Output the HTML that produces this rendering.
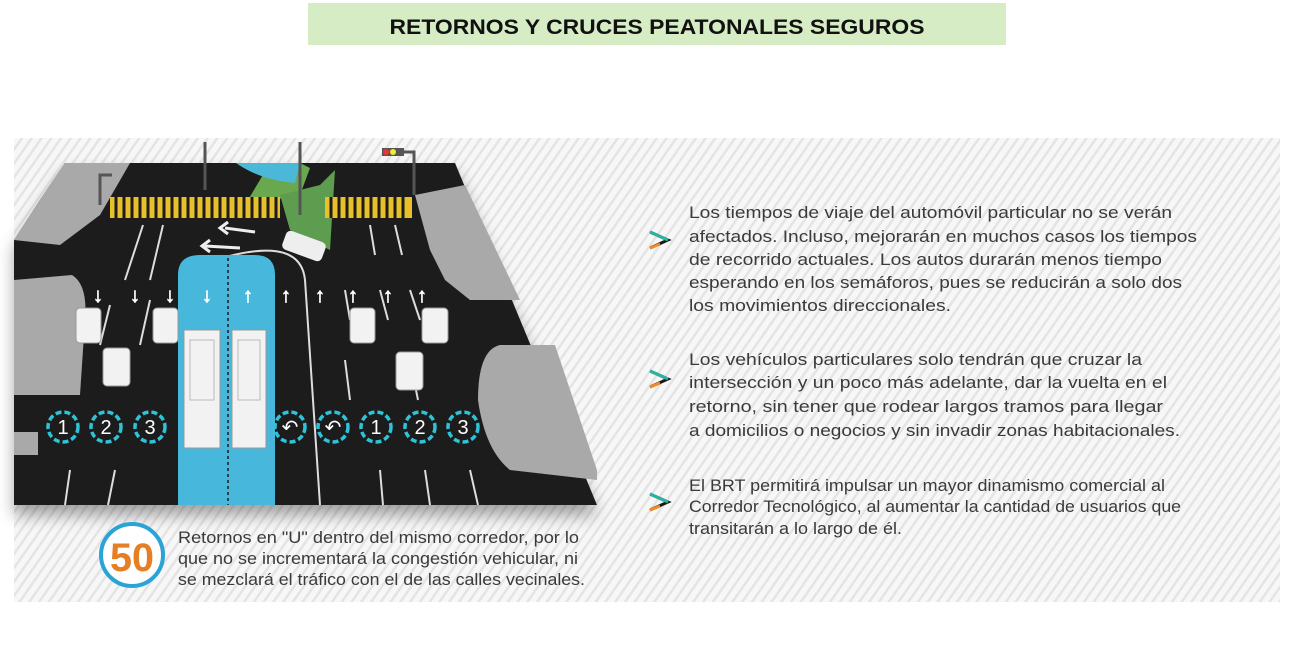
<!DOCTYPE html>
<html><head><meta charset="utf-8"><style>
html,body{margin:0;padding:0;background:#fff;width:1300px;height:645px;overflow:hidden}
svg{display:block}
.t{font-family:"Liberation Sans",sans-serif;font-size:16.5px;fill:#3a3a3a}
</style></head><body>
<svg width="1300" height="645" viewBox="0 0 1300 645" xmlns="http://www.w3.org/2000/svg">
<defs>
<pattern id="h" width="8" height="8" patternUnits="userSpaceOnUse" patternTransform="rotate(35)">
<rect width="8" height="8" fill="#f7f7f7"/><rect width="2.5" height="8" fill="#e4e4e4"/>
</pattern>
<filter id="sh" x="-10%" y="-10%" width="120%" height="130%"><feDropShadow dx="0" dy="10" stdDeviation="8" flood-color="#000" flood-opacity="0.35"/></filter>
</defs>
<rect x="308" y="3" width="698" height="42" fill="#d5ecc5"/>
<text x="657" y="34" text-anchor="middle" font-family="Liberation Sans,sans-serif" font-weight="bold" font-size="21" fill="#111" textLength="535" lengthAdjust="spacingAndGlyphs">RETORNOS Y CRUCES PEATONALES SEGUROS</text>
<rect x="14" y="138" width="1266" height="464" fill="url(#h)"/>

<!-- road -->
<polygon points="65,163 455,163 597,505 14,505 14,240 40,200" fill="#1c1c1c" filter="url(#sh)"/>
<!-- sidewalks -->
<polygon points="65,163 130,163 100,215 60,245 14,240 40,200" fill="#a9a9a9"/>
<polygon points="415,195 465,185 520,300 470,300 445,280 430,250" fill="#a9a9a9"/>
<path d="M500,345 L555,345 L597,470 L597,480 L510,470 Q485,450 478,400 Q478,350 500,345Z" fill="#a9a9a9"/>
<path d="M14,280 L72,275 Q88,285 85,320 L80,395 L14,395Z" fill="#a9a9a9"/>
<polygon points="14,432 38,432 38,455 14,455" fill="#a9a9a9"/>
<!-- top median -->
<polygon points="270,163 300,163 310,168 300,195 245,205" fill="#6aa84f"/>
<path d="M236,163 L300,163 L295,183 Q260,180 236,163Z" fill="#4bb8d8"/>
<polygon points="280,195 320,185 335,170 330,250 290,230" fill="#5e9c50"/>
<!-- crosswalks -->
<g fill="#e8c12a">
<rect x="110" y="197" width="170" height="21"/>
<rect x="325" y="197" width="87" height="21"/>
</g>
<g stroke="#1c1c1c" stroke-width="3">
<path d="M116,197v21M124,197v21M132,197v21M140,197v21M148,197v21M156,197v21M164,197v21M172,197v21M180,197v21M188,197v21M196,197v21M204,197v21M212,197v21M220,197v21M228,197v21M236,197v21M244,197v21M252,197v21M260,197v21M268,197v21M276,197v21"/>
<path d="M331,197v21M339,197v21M347,197v21M355,197v21M363,197v21M371,197v21M379,197v21M387,197v21M395,197v21M403,197v21"/>
</g>
<!-- lane lines -->
<g stroke="#ddd" stroke-width="2">
<path d="M143,225 L125,280M163,225 L150,280M110,305 L100,345M150,300 L140,345M115,470 L108,505M70,470 L65,505"/>
<path d="M370,225 L375,255M395,225 L402,255M345,290 L350,320M380,290 L388,320M410,290 L420,320M345,360 L350,400M410,360 L418,400M380,470 L383,505M425,470 L430,505M470,470 L478,505"/>
<path d="M200,265 Q300,230 305,280 L320,505" fill="none"/>
</g>
<!-- bus lane -->
<path d="M178,505 L178,275 Q178,255 200,255 L255,255 Q275,255 275,275 L275,505Z" fill="#48b7dc"/>
<line x1="228" y1="258" x2="228" y2="505" stroke="#1c1c1c" stroke-width="1.5" stroke-dasharray="3,3"/>
<rect x="184" y="330" width="36" height="118" fill="#f2f2f2" stroke="#999"/>
<rect x="232" y="330" width="34" height="118" fill="#f2f2f2" stroke="#999"/>
<rect x="190" y="340" width="24" height="60" fill="none" stroke="#bbb"/>
<rect x="238" y="340" width="22" height="60" fill="none" stroke="#bbb"/>
<!-- turn arrows -->
<g stroke="#eee" stroke-width="3" fill="none">
<path d="M255,232 L225,228M228,222 L220,228 L228,234"/>
<path d="M240,248 L205,246M210,240 L202,246 L210,252"/>
</g>
<rect x="283" y="236" width="42" height="20" rx="5" fill="#eee" transform="rotate(20 304 246)"/>
<!-- lane arrows -->
<g font-family="Liberation Sans,sans-serif" font-size="20" font-weight="bold" fill="#fff" stroke="#fff" stroke-width="0.8" text-anchor="middle">
<text x="98" y="302">↓</text><text x="135" y="302">↓</text><text x="170" y="302">↓</text>
<text x="207" y="302">↓</text><text x="248" y="302">↑</text><text x="286" y="302">↑</text>
<text x="320" y="302">↑</text><text x="353" y="302">↑</text><text x="388" y="302">↑</text><text x="422" y="302">↑</text>
</g>
<!-- cars -->
<g fill="#f2f2f2" stroke="#999">
<rect x="76" y="308" width="25" height="35" rx="4"/><rect x="153" y="308" width="25" height="35" rx="4"/>
<rect x="103" y="348" width="27" height="38" rx="4"/>
<rect x="350" y="308" width="25" height="35" rx="4"/><rect x="422" y="308" width="26" height="35" rx="4"/>
<rect x="396" y="352" width="27" height="38" rx="4"/>
</g>
<!-- circles -->
<g fill="none" stroke="#2ec3d8" stroke-width="3.5" stroke-dasharray="6,3">
<circle cx="63" cy="427" r="15"/><circle cx="106" cy="427" r="15"/><circle cx="150" cy="427" r="15"/>
<circle cx="290" cy="427" r="15"/><circle cx="333" cy="427" r="15"/><circle cx="376" cy="427" r="15"/>
<circle cx="420" cy="427" r="15"/><circle cx="463" cy="427" r="15"/>
</g>
<g font-family="Liberation Sans,sans-serif" font-size="20" fill="#fff" text-anchor="middle">
<text x="63" y="434">1</text><text x="106" y="434">2</text><text x="150" y="434">3</text>
<text x="290" y="434">↶</text><text x="333" y="434">↶</text>
<text x="376" y="434">1</text><text x="420" y="434">2</text><text x="463" y="434">3</text>
</g>
<!-- poles -->
<g stroke="#555" stroke-width="3" fill="none"><path d="M205,142V190M300,142V215M398,152H414V195M112,175H100V205"/></g>
<rect x="382" y="148" width="22" height="8" fill="#555"/><circle cx="386" cy="152" r="3" fill="#e33"/><circle cx="393" cy="152" r="3" fill="#ee3"/>

<!-- 50 badge -->
<circle cx="132" cy="555" r="31" fill="#fff" stroke="#2aa3d6" stroke-width="4"/>
<text x="132" y="571" text-anchor="middle" font-family="Liberation Sans,sans-serif" font-weight="bold" font-size="40" fill="#e67e22" textLength="44" lengthAdjust="spacingAndGlyphs">50</text>
<text class="t" x="178" y="543" font-size="15.5" textLength="401" lengthAdjust="spacingAndGlyphs">Retornos en "U" dentro del mismo corredor, por lo</text>
<text class="t" x="178" y="564" font-size="15.5" textLength="400" lengthAdjust="spacingAndGlyphs">que no se incrementará la congestión vehicular, ni</text>
<text class="t" x="178" y="585" font-size="15.5" textLength="407" lengthAdjust="spacingAndGlyphs">se mezclará el tráfico con el de las calles vecinales.</text>

<!-- icons -->
<g>
<path d="M650,232 L668,240 L650,248" fill="none" stroke="#1a1a1a" stroke-width="3"/>
<path d="M650,232 L668,240" stroke="#2bb3a0" stroke-width="3"/><path d="M650,248 L660,244" stroke="#f08a24" stroke-width="3"/>
<path d="M650,371 L668,379 L650,387" fill="none" stroke="#1a1a1a" stroke-width="3"/>
<path d="M650,371 L668,379" stroke="#2bb3a0" stroke-width="3"/><path d="M650,387 L660,383" stroke="#f08a24" stroke-width="3"/>
<path d="M650,494 L668,502 L650,510" fill="none" stroke="#1a1a1a" stroke-width="3"/>
<path d="M650,494 L668,502" stroke="#2bb3a0" stroke-width="3"/><path d="M650,510 L660,506" stroke="#f08a24" stroke-width="3"/>
</g>

<text class="t" x="689" y="218" textLength="483" lengthAdjust="spacingAndGlyphs">Los tiempos de viaje del automóvil particular no se verán</text>
<text class="t" x="689" y="242" textLength="508" lengthAdjust="spacingAndGlyphs">afectados. Incluso, mejorarán en muchos casos los tiempos</text>
<text class="t" x="689" y="265" textLength="473" lengthAdjust="spacingAndGlyphs">de recorrido actuales. Los autos durarán menos tiempo</text>
<text class="t" x="689" y="288" textLength="493" lengthAdjust="spacingAndGlyphs">esperando en los semáforos, pues se reducirán a solo dos</text>
<text class="t" x="689" y="311" textLength="262" lengthAdjust="spacingAndGlyphs">los movimientos direccionales.</text>

<text class="t" x="689" y="365" textLength="453" lengthAdjust="spacingAndGlyphs">Los vehículos particulares solo tendrán que cruzar la</text>
<text class="t" x="689" y="388" textLength="478" lengthAdjust="spacingAndGlyphs">intersección y un poco más adelante, dar la vuelta en el</text>
<text class="t" x="689" y="412" textLength="474" lengthAdjust="spacingAndGlyphs">retorno, sin tener que rodear largos tramos para llegar</text>
<text class="t" x="689" y="436" textLength="491" lengthAdjust="spacingAndGlyphs">a domicilios o negocios y sin invadir zonas habitacionales.</text>

<text class="t" x="689" y="491" font-size="15" textLength="476" lengthAdjust="spacingAndGlyphs">El BRT permitirá impulsar un mayor dinamismo comercial al</text>
<text class="t" x="689" y="512" font-size="15" textLength="492" lengthAdjust="spacingAndGlyphs">Corredor Tecnológico, al aumentar la cantidad de usuarios que</text>
<text class="t" x="689" y="534" font-size="15" textLength="213" lengthAdjust="spacingAndGlyphs">transitarán a lo largo de él.</text>
</svg>
</body></html>
